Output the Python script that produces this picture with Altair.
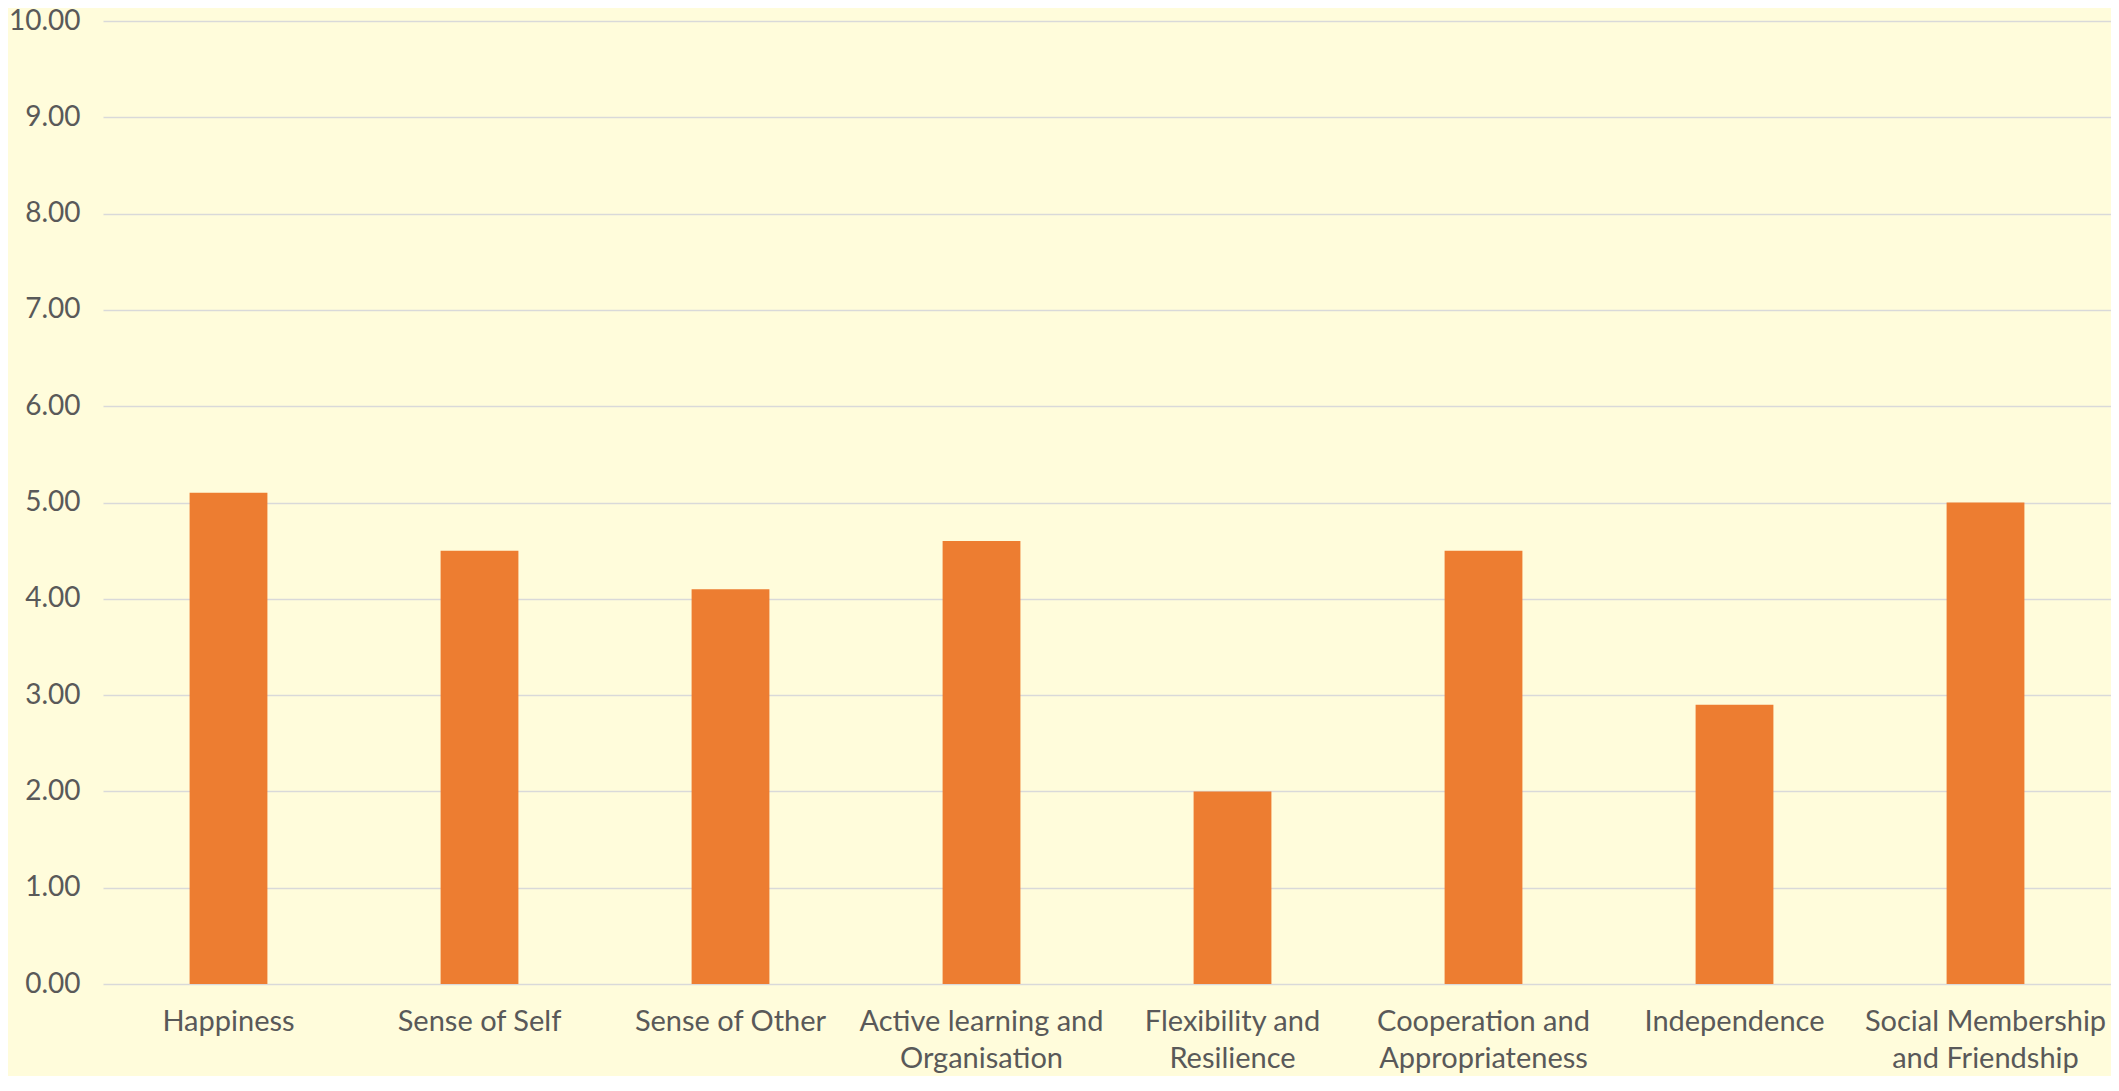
import altair as alt
import pandas as pd

categories = [
    "Happiness",
    "Sense of Self",
    "Sense of Other",
    "Active learning and\nOrganisation",
    "Flexibility and\nResilience",
    "Cooperation and\nAppropriateness",
    "Independence",
    "Social Membership\nand Friendship",
]
values = [5.1, 4.5, 4.1, 4.6, 2.0, 4.5, 2.9, 5.0]
y_ticks = [0, 1, 2, 3, 4, 5, 6, 7, 8, 9, 10]

df = pd.DataFrame({"category": categories, "value": values})

FONT = "Lato"
TXT = "#595959"
BG = "#FFFCDB"

chart = (
    alt.Chart(df)
    .mark_bar(color="#ED7D31")
    .encode(
        x=alt.X(
            "category:N",
            sort=categories,
            scale=alt.Scale(paddingInner=0.69, paddingOuter=0.345),
            axis=alt.Axis(
                title=None,
                labelAngle=0,
                labelFont=FONT,
                labelFontSize=29,
                labelColor=TXT,
                labelPadding=23,
                labelLineHeight=37,
                labelLimit=0,
                labelExpr="split(datum.label, '\\n')",
                ticks=False,
                domain=False,
                grid=False,
                labelOverlap=False,
                labelBound=False,
            ),
        ),
        y=alt.Y(
            "value:Q",
            scale=alt.Scale(domain=[0, 10], nice=False),
            axis=alt.Axis(
                title=None,
                values=y_ticks,
                format=".2f",
                labelFont=FONT,
                labelFontSize=28,
                labelColor=TXT,
                labelPadding=23,
                ticks=False,
                domain=False,
                grid=True,
                gridColor="#D9D9D9",
                gridWidth=1.5,
            ),
        ),
    )
    .properties(
        width=2008,
        height=963,
        autosize=alt.AutoSizeParams(type="none"),
        padding={"left": 95, "top": 13, "right": 0, "bottom": 92},
        background=BG,
    )
    .configure_view(stroke=None)
)

chart.save("out.html", embed_options={"renderer": "svg", "actions": False})
